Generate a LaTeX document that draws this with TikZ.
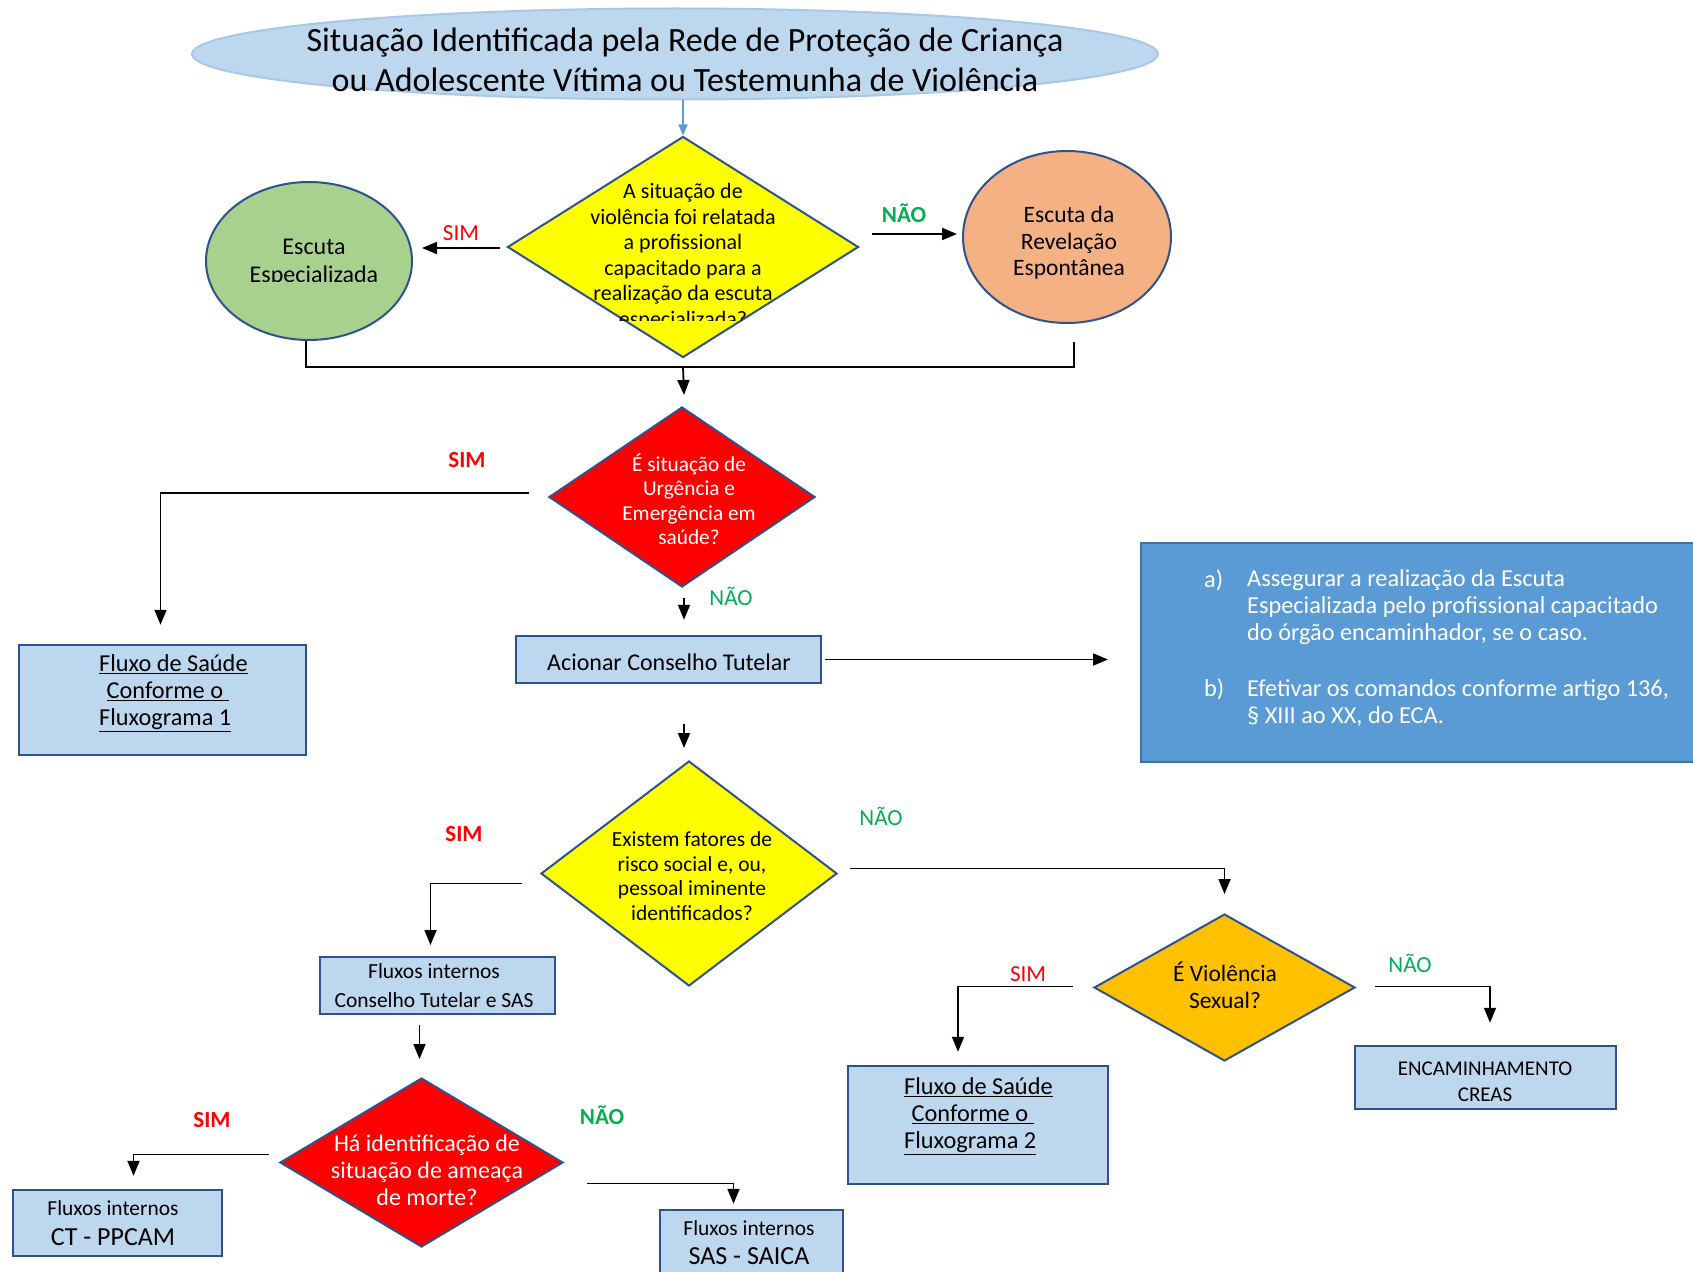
\documentclass[tikz,border=0pt]{standalone}
\usepackage{fontspec}
\setmainfont{Carlito}
\usetikzlibrary{shapes.geometric,arrows.meta,calc}
\definecolor{lblue}{HTML}{BDD7EE}
\definecolor{edge}{HTML}{2F528F}
\definecolor{dyellow}{HTML}{FFFF00}
\definecolor{dred}{HTML}{FF0000}
\definecolor{dorange}{HTML}{FFC000}
\definecolor{egreen}{HTML}{A9D18E}
\definecolor{eorange}{HTML}{F4B183}
\definecolor{bbox}{HTML}{5B9BD5}
\definecolor{bboxedge}{HTML}{41719C}
\definecolor{lgreen}{HTML}{00B050}
\definecolor{lred}{HTML}{FF0000}
\definecolor{tarrow}{HTML}{5B9BD5}
\definecolor{titleedge}{HTML}{A8C8E8}
\newcommand{\fs}[2]{\fontsize{#1}{#2}\selectfont}
\tikzset{
  dia/.style={diamond, draw=edge, line width=2pt, inner sep=0pt},
  box/.style={rectangle, draw=edge, line width=2.5pt, fill=lblue, inner sep=0pt},
  oval/.style={ellipse, draw=edge, line width=2pt, inner sep=0pt},
  txt/.style={align=center, inner sep=0pt},
  conn/.style={line width=1.8pt, draw=black},
  arr/.style={conn, -{Triangle[length=15pt,width=12pt]}},
  simr/.style={text=lred, inner sep=0pt, font=\fs{23}{27}},
  simb/.style={text=lred, inner sep=0pt, font=\bfseries\fs{23}{27}},
  naor/.style={text=lgreen, inner sep=0pt, font=\fs{23}{27}},
  naob/.style={text=lgreen, inner sep=0pt, font=\bfseries\fs{23}{27}},
}
\begin{document}
\begin{tikzpicture}[x=1pt,y=-1pt]
\useasboundingbox (0,0) rectangle (1693,1271);
\clip (0,0) rectangle (1693,1271);
\fill[white] (0,0) rectangle (1693,1271);

% title
\node[ellipse, fill=lblue, draw=titleedge, line width=2pt, inner sep=0pt, minimum width=966pt, minimum height=91pt] (title) at (675,54) {};
\node[txt, font=\fs{34}{40}] (titlet) at (685,60) {Situação Identificada pela Rede de Proteção de Criança\\ou Adolescente Vítima ou Testemunha de Violência};

% first decision
\node[dia, fill=dyellow, minimum width=351pt, minimum height=221pt] (d1) at (683,247) {};
\begin{scope}
\clip (480,130) rectangle (880,320);
\node[txt, font=\fs{22}{25.5}] (d1t) at (683,256.5) {A situação de\\violência foi relatada\\a profissional\\capacitado para a\\realização da escuta\\especializada?};
\end{scope}

\node[oval, fill=egreen, minimum width=206pt, minimum height=158pt] (esp) at (309,261) {};
\begin{scope}
\clip (200,150) rectangle (420,281);
\node[txt, font=\fs{24}{28}] (espt) at (314,263) {Escuta\\Especializada};
\end{scope}

\node[oval, fill=eorange, minimum width=208pt, minimum height=172pt] (rev) at (1067,237) {};
\node[txt, font=\fs{23.5}{26.5}] (revt) at (1069,243) {Escuta da\\Revelação\\Espontânea};

% second decision
\node[dia, fill=dred, minimum width=266pt, minimum height=180pt] (d2) at (682,497) {};
\node[txt, font=\fs{21.3}{24.5}, text=white] (d2t) at (689,499) {É situação de\\Urgência e\\Emergência em\\saúde?};

\node[box, minimum width=287pt, minimum height=110pt] (f1) at (162.5,700) {};
\node[inner sep=0pt, align=left, anchor=west, font=\fs{24.3}{27}] (f1t) at (99,693) {\underline{Fluxo de Saúde}\\\hspace*{7.5pt}\underline{Conforme o\ }\\\underline{Fluxograma 1}};

\node[box, minimum width=305pt, minimum height=47pt] (act) at (668.5,659.5) {};
\node[txt, font=\fs{24}{28}] (actt) at (669,662) {Acionar Conselho Tutelar};

\node[rectangle, fill=bbox, draw=bboxedge, line width=2pt, inner sep=0pt, minimum width=570pt, minimum height=219pt] (blue) at (1426,652.5) {};
\node[inner sep=0pt, anchor=west, text=white, font=\fs{24.3}{27}] (la) at (1204,580) {a)};
\node[inner sep=0pt, anchor=west, align=left, text=white, font=\fs{24.3}{27}] (pa) at (1247,607) {Assegurar a realização da Escuta\\Especializada pelo profissional capacitado\\do órgão encaminhador, se o caso.};
\node[inner sep=0pt, anchor=west, text=white, font=\fs{24.3}{27}] (lb) at (1204,689) {b)};
\node[inner sep=0pt, anchor=west, align=left, text=white, font=\fs{24.3}{27}] (pb) at (1247,703) {Efetivar os comandos conforme artigo 136,\\§ XIII ao XX, do ECA.};

% third decision
\node[dia, fill=dyellow, minimum width=296pt, minimum height=225pt] (d3) at (689,873.5) {};
\node[txt, font=\fs{21.5}{24.5}] (d3t) at (692,876) {Existem fatores de\\risco social e, ou,\\pessoal iminente\\identificados?};

\node[box, line width=2pt, minimum width=235pt, minimum height=57pt] (fi1) at (437.5,985.5) {};
\node[txt, font=\fs{21.5}{29}] (fi1t) at (434,986) {Fluxos internos\\Conselho Tutelar e SAS};

\node[dia, fill=dred, minimum width=283pt, minimum height=169pt] (d4) at (421.5,1162.5) {};
\node[txt, text=white, font=\fs{24}{27}] (d4t) at (427,1170.5) {Há identificação de\\situação de ameaça\\de morte?};

\node[box, minimum width=209pt, minimum height=66pt] (ct) at (117.5,1223) {};
\node[txt, font=\fs{21.4}{26}] (ct1) at (113,1208) {Fluxos internos};
\node[txt, font=\fs{26}{30}] (ct2) at (113,1237) {CT - PPCAM};

\node[box, minimum width=183pt, minimum height=90pt] (sas) at (751.5,1255) {};
\node[txt, font=\fs{21.4}{26}] (sas1) at (749,1228) {Fluxos internos};
\node[txt, font=\fs{26}{30}] (sas2) at (749,1256) {SAS - SAICA};

\node[dia, fill=dorange, minimum width=261pt, minimum height=147pt] (d5) at (1224.5,987.5) {};
\node[txt, font=\fs{23.5}{27}] (d5t) at (1225,985) {É Violência\\Sexual?};

\node[box, minimum width=260pt, minimum height=118pt] (f2) at (978,1125) {};
\node[inner sep=0pt, align=left, anchor=west, font=\fs{24.3}{27}] (f2t) at (904,1116) {\underline{Fluxo de Saúde}\\\hspace*{7.5pt}\underline{Conforme o\ }\\\underline{Fluxograma 2}};

\node[box, minimum width=261pt, minimum height=63pt] (cr) at (1485.5,1077.5) {};
\node[txt, font=\fs{21}{26}] (crt) at (1485,1081.5) {ENCAMINHAMENTO\\CREAS};

% connectors
\draw[line width=1.2pt, tarrow, -{Triangle[length=11pt,width=9pt]}] (title.south -| d1.north) -- (d1.north);
\draw[arr] ($(d1.west)+(-7,1)$) -- ($(esp.east |- d1.west)+(9,1)$);
\draw[arr] ($(d1.east)+(12,-13)$) -- ($(rev.west |- d1.east)+(-5,-13)$);
\draw[conn] ($(esp.south)+(-3,0)$) -- ++(0,26) coordinate (mL) -| ($(rev.south)+(7,18)$);
\draw[arr] (mL -| d1.south) -- ($(d2.north)+(2,-11)$);
\draw[arr] ($(d2.west)+(-19,-4)$) -| ($(f1.north)+(-2,-19)$);
\draw[arr] ($(d2.south)+(2,10)$) -- ($(act.north -| d2.south)+(2,-15)$);
\draw[arr] ($(act.east)+(3,0)$) -- ($(blue.west |- act.east)+(-32,0)$);
\draw[arr] ($(act.south -| d3.north)+(-5,40)$) -- ($(d3.north)+(-5,-12)$);
\draw[arr] ($(d3.west)+(-18,10)$) -| ($(fi1.north)+(-7,-11)$);
\draw[arr] ($(d3.east)+(12,-5)$) -| ($(d5.north)+(0,-19)$);
\draw[arr] ($(fi1.south -| d4.north)+(-2,10)$) -- ($(d4.north)+(-2,-18)$);
\draw[arr] ($(d4.west)+(-10,-8)$) -| ($(ct.north)+(16,-13)$);
\draw[arr] ($(d4.east)+(23,21)$) -| ($(sas.north)+(-18,-5)$);
\draw[arr] ($(d5.west)+(-20,-1)$) -| ($(f2.north)+(-20,-13)$);
\draw[arr] ($(d5.east)+(19,-1)$) -| ($(cr.north)+(4.5,-22)$);

% labels
\node[simr] (s1) at (461,233) {SIM};
\node[naob] (n1) at (904,213) {NÃO};
\node[simb] (s2) at (467,460) {SIM};
\node[naor] (n2) at (731,596) {NÃO};
\node[simb] (s3) at (464,834) {SIM};
\node[naor] (n3) at (881,816) {NÃO};
\node[simb] (s4) at (212,1120) {SIM};
\node[naob] (n4) at (602,1115) {NÃO};
\node[simr] (s5) at (1028,974) {SIM};
\node[naor] (n5) at (1410,963) {NÃO};
\end{tikzpicture}
\end{document}
